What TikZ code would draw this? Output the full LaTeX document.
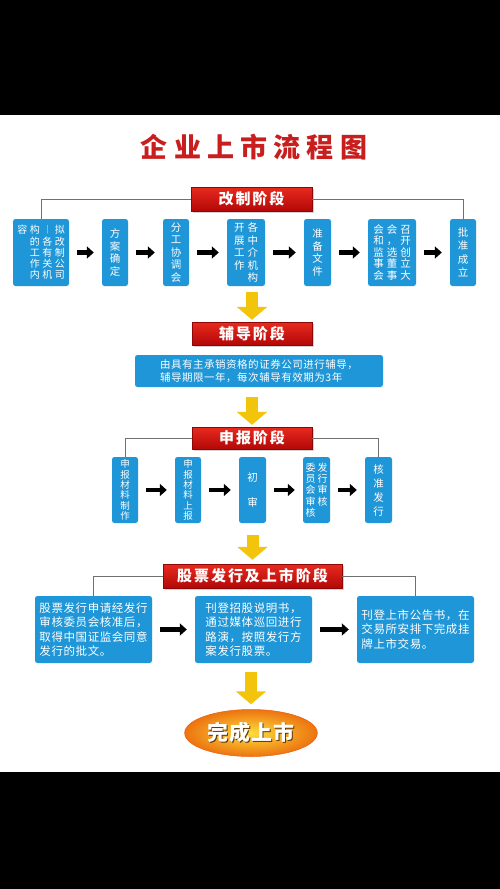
\documentclass[tikz,border=0pt]{standalone}
\usepackage{fontspec}
\newfontfamily\cjk{Noto Sans CJK SC}
\usepackage{tikz}
\usetikzlibrary{arrows.meta, shapes.geometric, shadows}

\definecolor{boxblue}{HTML}{1E96D7}
\definecolor{hdrtop}{HTML}{E82A1E}
\definecolor{hdrbot}{HTML}{B30808}
\definecolor{titlered}{HTML}{C81E1E}
\definecolor{arrowgold}{HTML}{F2C40C}
\definecolor{linegray}{HTML}{707070}
\definecolor{ellorange}{HTML}{EC7410}
\definecolor{ellyellow}{HTML}{FFDC3C}
\definecolor{edgebrown}{HTML}{5A3A10}

% one column of vertical text, rows at the current baselineskip
\newcommand{\vc}[1]{\vtop{\lineskiplimit=-100pt\let\\\cr\halign{\hfil##\hfil\cr#1\crcr}}}
% text with a dark edge
\newcommand{\edged}[1]{\makebox[0pt][l]{\raisebox{-0.9pt}{\hspace{0.9pt}\color{edgebrown}#1}}#1}

\begin{document}
\begin{tikzpicture}[x=1pt, y=-1pt,
    blk/.style={fill=boxblue, rounded corners=2.5pt, text=white, inner sep=0pt},
    vtxt/.style={blk, font=\cjk\fontsize{10.5}{12.5}\selectfont},
    htxt/.style={blk, align=left, font=\cjk\addfontfeature{LetterSpace=5}\fontsize{11.5}{14.5}\selectfont},
    stage/.style={top color=hdrtop, bottom color=hdrbot, draw=hdrbot!80!black, line width=0.4pt,
      text=white, inner sep=0pt, font=\cjk\bfseries\addfontfeature{LetterSpace=13}\fontsize{15}{15}\selectfont,
      drop shadow={opacity=0.35, shadow xshift=1.5pt, shadow yshift=-1.5pt}},
    go/.style={line width=4.5pt, -{Triangle[length=7pt, width=12pt]}, shorten <=8pt, shorten >=8pt},
    down/.style={draw=arrowgold, line width=12pt, -{Triangle[length=13pt, width=30pt]}},
    link/.style={draw=linegray, line width=0.9pt}]

  \useasboundingbox (0,0) rectangle (500,889);
  \fill[black] (0,0) rectangle (500,115);
  \fill[white] (0,115) rectangle (500,772);
  \fill[black] (0,772) rectangle (500,889);

  \node[text=titlered, font=\cjk\bfseries\addfontfeature{LetterSpace=23}\fontsize{27}{27}\selectfont] (title) at (254,147) {企业上市流程图};

  % stage 1
  \node[stage, minimum width=121, minimum height=24] (h1) at (251.5,199) {改制阶段};

  \node[vtxt, minimum width=56, minimum height=67, font=\cjk\fontsize{10}{11.2}\selectfont] (b1) at (41,252.5)
    {\vc{容}\hspace{2.5pt}\vc{构\\的\\工\\作\\内}\hspace{2.5pt}\vc{︱\\各\\有\\关\\机}\hspace{2.5pt}\vc{拟\\改\\制\\公\\司}};
  \node[vtxt, minimum width=26, minimum height=67] (b2) at (115,252.5) {\vc{方\\案\\确\\定}};
  \node[vtxt, minimum width=26, minimum height=67] (b3) at (176,252.5) {\vc{分\\工\\协\\调\\会}};
  \node[vtxt, minimum width=38, minimum height=67] (b4) at (246,252.5) {\vc{开\\展\\工\\作}\hspace{3pt}\vc{各\\中\\介\\机\\构}};
  \node[vtxt, minimum width=27, minimum height=67] (b5) at (317.5,252.5) {\vc{准\\备\\文\\件}};
  \node[vtxt, minimum width=48, minimum height=67, font=\cjk\fontsize{10.5}{11.5}\selectfont] (b6) at (392,252.5)
    {\vc{会\\和\\监\\事\\会}\hspace{3pt}\vc{会\\，\\选\\董\\事}\hspace{3pt}\vc{召\\开\\创\\立\\大}};
  \node[vtxt, minimum width=26, minimum height=67, font=\cjk\fontsize{10.5}{13.5}\selectfont] (b7) at (463,252.5) {\vc{批\\准\\成\\立}};

  \draw[link] (b1.north) |- (h1.west);
  \draw[link] (h1.east) -| (b7.north);
  \draw[go] (b1) -- (b2);
  \draw[go] (b2) -- (b3);
  \draw[go] (b3) -- (b4);
  \draw[go] (b4) -- (b5);
  \draw[go] (b5) -- (b6);
  \draw[go] (b6) -- (b7);

  % stage 2
  \node[stage, minimum width=120, minimum height=23] (h2) at (252,333.5) {辅导阶段};
  \node[blk, minimum width=248, minimum height=32, align=left,
    font=\cjk\addfontfeature{LetterSpace=5}\fontsize{10.5}{13}\selectfont] (coach) at (259,371)
    {由具有主承销资格的证券公司进行辅导，\\辅导期限一年，每次辅导有效期为3年};

  \draw[down, shorten <=6pt, shorten >=2pt] (h2.north |- b4.south) -- (h2.north);

  % stage 3
  \node[stage, minimum width=120, minimum height=22] (h3) at (252,438) {申报阶段};

  \node[vtxt, minimum width=26, minimum height=66, font=\cjk\fontsize{9.5}{10.4}\selectfont] (r1) at (125,490) {\vc{申\\报\\材\\料\\制\\作}};
  \node[vtxt, minimum width=26, minimum height=66, font=\cjk\fontsize{9.5}{10.4}\selectfont] (r2) at (188,490) {\vc{申\\报\\材\\料\\上\\报}};
  \node[vtxt, minimum width=27, minimum height=66] (r3) at (252.5,490) {\vc{初\\ \\审}};
  \node[vtxt, minimum width=27, minimum height=66, font=\cjk\fontsize{10}{11.2}\selectfont] (r4) at (316.5,490)
    {\vc{委\\员\\会\\审\\核}\hspace{2pt}\vc{发\\行\\审\\核}};
  \node[vtxt, minimum width=27, minimum height=66, font=\cjk\fontsize{10.5}{14}\selectfont] (r5) at (378.5,490) {\vc{核\\准\\发\\行}};

  \draw[down, shorten <=10pt, shorten >=2pt] (h3.north |- coach.south) -- (h3.north);
  \draw[link] (r1.north) |- (h3.west);
  \draw[link] (h3.east) -| (r5.north);
  \draw[go] (r1) -- (r2);
  \draw[go] (r2) -- (r3);
  \draw[go] (r3) -- (r4);
  \draw[go] (r4) -- (r5);

  % stage 4
  \node[stage, minimum width=179, minimum height=24] (h4) at (252.5,576) {股票发行及上市阶段};

  \node[htxt, minimum width=117, minimum height=67] (s1) at (93.5,629.5)
    {股票发行申请经发行\\审核委员会核准后，\\取得中国证监会同意\\发行的批文。};
  \node[htxt, minimum width=117, minimum height=67] (s2) at (253.5,629.5)
    {刊登招股说明书，\\通过媒体巡回进行\\路演，按照发行方\\案发行股票。};
  \node[htxt, minimum width=117, minimum height=67] (s3) at (415.5,629.5)
    {刊登上市公告书，在\\交易所安排下完成挂\\牌上市交易。};

  \draw[down, shorten <=12pt, shorten >=4pt] (h4.north |- r3.south) -- (h4.north);
  \draw[link] (s1.north) |- (h4.west);
  \draw[link] (h4.east) -| (s3.north);
  \draw[go] (s1) -- (s2);
  \draw[go] (s2) -- (s3);

  % done
  \node[ellipse, minimum width=132, minimum height=47, inner color=ellyellow, outer color=ellorange,
    draw=ellorange!80!red, line width=0.5pt, text=white,
    font=\cjk\bfseries\addfontfeature{LetterSpace=5}\fontsize{21}{21}\selectfont] (done) at (251,733) {\edged{完成上市}};

  \draw[down, shorten <=9pt, shorten >=5pt] (done.north |- s2.south) -- (done.north);
\end{tikzpicture}
\end{document}
